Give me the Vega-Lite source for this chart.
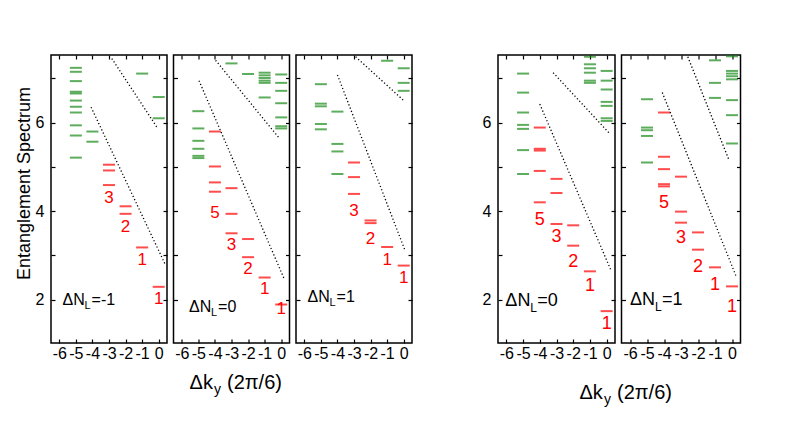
{
"$schema": "https://vega.github.io/schema/vega-lite/v6.json",
"background": "white",
"padding": {"left": 14, "top": 53, "right": 5, "bottom": 5},
"config": {
  "view": {"stroke": "#000", "strokeWidth": 1.5},
  "axis": {"grid": false, "domain": false, "tickColor": "#000", "tickSize": -4, "tickWidth": 1.2, "labelFont": "Liberation Sans", "labelFontSize": 16, "labelColor": "#000", "titleFont": "Liberation Sans", "titleFontWeight": "normal", "titleColor": "#000", "labelFlush": false, "labelOverlap": false},
  "text": {"font": "Liberation Sans"}
},
"datasets": {
  "levels": [
    {"panel":1,"dk":-5,"es":7.24,"branch":"upper"},{"panel":1,"dk":-5,"es":7.15,"branch":"upper"},{"panel":1,"dk":-5,"es":6.94,"branch":"upper"},{"panel":1,"dk":-5,"es":6.70,"branch":"upper"},{"panel":1,"dk":-5,"es":6.66,"branch":"upper"},{"panel":1,"dk":-5,"es":6.50,"branch":"upper"},{"panel":1,"dk":-5,"es":6.36,"branch":"upper"},{"panel":1,"dk":-5,"es":6.23,"branch":"upper"},{"panel":1,"dk":-5,"es":5.94,"branch":"upper"},{"panel":1,"dk":-5,"es":5.71,"branch":"upper"},{"panel":1,"dk":-5,"es":5.21,"branch":"upper"},
    {"panel":1,"dk":-4,"es":5.80,"branch":"upper"},{"panel":1,"dk":-4,"es":5.57,"branch":"upper"},
    {"panel":1,"dk":-1,"es":7.11,"branch":"upper"},
    {"panel":1,"dk":0,"es":6.58,"branch":"upper"},{"panel":1,"dk":0,"es":6.10,"branch":"upper"},
    {"panel":1,"dk":-3,"es":5.05,"branch":"lower"},{"panel":1,"dk":-3,"es":4.92,"branch":"lower"},{"panel":1,"dk":-3,"es":4.59,"branch":"lower"},
    {"panel":1,"dk":-2,"es":4.11,"branch":"lower"},{"panel":1,"dk":-2,"es":3.94,"branch":"lower"},
    {"panel":1,"dk":-1,"es":3.18,"branch":"lower"},
    {"panel":1,"dk":0,"es":2.29,"branch":"lower"},

    {"panel":2,"dk":-5,"es":6.26,"branch":"upper"},{"panel":2,"dk":-5,"es":5.87,"branch":"upper"},{"panel":2,"dk":-5,"es":5.59,"branch":"upper"},{"panel":2,"dk":-5,"es":5.41,"branch":"upper"},{"panel":2,"dk":-5,"es":5.25,"branch":"upper"},{"panel":2,"dk":-5,"es":5.20,"branch":"upper"},
    {"panel":2,"dk":-3,"es":7.34,"branch":"upper"},
    {"panel":2,"dk":-2,"es":7.10,"branch":"upper"},
    {"panel":2,"dk":-1,"es":7.13,"branch":"upper"},{"panel":2,"dk":-1,"es":7.07,"branch":"upper"},{"panel":2,"dk":-1,"es":7.01,"branch":"upper"},{"panel":2,"dk":-1,"es":6.95,"branch":"upper"},{"panel":2,"dk":-1,"es":6.90,"branch":"upper"},{"panel":2,"dk":-1,"es":6.57,"branch":"upper"},
    {"panel":2,"dk":0,"es":7.09,"branch":"upper"},{"panel":2,"dk":0,"es":6.90,"branch":"upper"},{"panel":2,"dk":0,"es":6.72,"branch":"upper"},{"panel":2,"dk":0,"es":6.44,"branch":"upper"},{"panel":2,"dk":0,"es":6.12,"branch":"upper"},{"panel":2,"dk":0,"es":5.92,"branch":"upper"},{"panel":2,"dk":0,"es":5.87,"branch":"upper"},
    {"panel":2,"dk":-4,"es":5.80,"branch":"lower"},{"panel":2,"dk":-4,"es":5.01,"branch":"lower"},{"panel":2,"dk":-4,"es":4.65,"branch":"lower"},{"panel":2,"dk":-4,"es":4.44,"branch":"lower"},
    {"panel":2,"dk":-3,"es":4.52,"branch":"lower"},{"panel":2,"dk":-3,"es":3.94,"branch":"lower"},{"panel":2,"dk":-3,"es":3.50,"branch":"lower"},
    {"panel":2,"dk":-2,"es":3.37,"branch":"lower"},{"panel":2,"dk":-2,"es":2.96,"branch":"lower"},
    {"panel":2,"dk":-1,"es":2.50,"branch":"lower"},
    {"panel":2,"dk":0,"es":1.89,"branch":"lower"},

    {"panel":3,"dk":-5,"es":6.87,"branch":"upper"},{"panel":3,"dk":-5,"es":6.43,"branch":"upper"},{"panel":3,"dk":-5,"es":6.37,"branch":"upper"},{"panel":3,"dk":-5,"es":5.97,"branch":"upper"},{"panel":3,"dk":-5,"es":5.85,"branch":"upper"},
    {"panel":3,"dk":-4,"es":6.25,"branch":"upper"},{"panel":3,"dk":-4,"es":5.52,"branch":"upper"},{"panel":3,"dk":-4,"es":5.35,"branch":"upper"},{"panel":3,"dk":-4,"es":4.84,"branch":"upper"},
    {"panel":3,"dk":-1,"es":7.40,"branch":"upper"},
    {"panel":3,"dk":0,"es":7.23,"branch":"upper"},{"panel":3,"dk":0,"es":6.90,"branch":"upper"},{"panel":3,"dk":0,"es":6.72,"branch":"upper"},
    {"panel":3,"dk":-3,"es":5.10,"branch":"lower"},{"panel":3,"dk":-3,"es":4.77,"branch":"lower"},{"panel":3,"dk":-3,"es":4.39,"branch":"lower"},
    {"panel":3,"dk":-2,"es":3.79,"branch":"lower"},{"panel":3,"dk":-2,"es":3.73,"branch":"lower"},
    {"panel":3,"dk":-1,"es":3.19,"branch":"lower"},
    {"panel":3,"dk":0,"es":2.77,"branch":"lower"},

    {"panel":4,"dk":-5,"es":7.11,"branch":"upper"},{"panel":4,"dk":-5,"es":6.68,"branch":"upper"},{"panel":4,"dk":-5,"es":6.23,"branch":"upper"},{"panel":4,"dk":-5,"es":5.95,"branch":"upper"},{"panel":4,"dk":-5,"es":5.86,"branch":"upper"},{"panel":4,"dk":-5,"es":5.38,"branch":"upper"},{"panel":4,"dk":-5,"es":4.84,"branch":"upper"},
    {"panel":4,"dk":-1,"es":7.49,"branch":"upper"},{"panel":4,"dk":-1,"es":7.32,"branch":"upper"},{"panel":4,"dk":-1,"es":7.23,"branch":"upper"},{"panel":4,"dk":-1,"es":7.13,"branch":"upper"},{"panel":4,"dk":-1,"es":6.95,"branch":"upper"},{"panel":4,"dk":-1,"es":6.90,"branch":"upper"},
    {"panel":4,"dk":0,"es":7.17,"branch":"upper"},{"panel":4,"dk":0,"es":6.95,"branch":"upper"},{"panel":4,"dk":0,"es":6.75,"branch":"upper"},{"panel":4,"dk":0,"es":6.47,"branch":"upper"},{"panel":4,"dk":0,"es":6.38,"branch":"upper"},{"panel":4,"dk":0,"es":6.10,"branch":"upper"},{"panel":4,"dk":0,"es":6.04,"branch":"upper"},
    {"panel":4,"dk":-4,"es":5.89,"branch":"lower"},{"panel":4,"dk":-4,"es":5.41,"branch":"lower"},{"panel":4,"dk":-4,"es":5.37,"branch":"lower"},{"panel":4,"dk":-4,"es":4.91,"branch":"lower"},{"panel":4,"dk":-4,"es":4.20,"branch":"lower"},
    {"panel":4,"dk":-3,"es":4.73,"branch":"lower"},{"panel":4,"dk":-3,"es":4.41,"branch":"lower"},{"panel":4,"dk":-3,"es":3.71,"branch":"lower"},
    {"panel":4,"dk":-2,"es":3.68,"branch":"lower"},{"panel":4,"dk":-2,"es":3.22,"branch":"lower"},
    {"panel":4,"dk":-1,"es":2.64,"branch":"lower"},
    {"panel":4,"dk":0,"es":1.74,"branch":"lower"},

    {"panel":5,"dk":-5,"es":6.53,"branch":"upper"},{"panel":5,"dk":-5,"es":5.89,"branch":"upper"},{"panel":5,"dk":-5,"es":5.83,"branch":"upper"},{"panel":5,"dk":-5,"es":5.70,"branch":"upper"},{"panel":5,"dk":-5,"es":5.10,"branch":"upper"},
    {"panel":5,"dk":-1,"es":7.41,"branch":"upper"},{"panel":5,"dk":-1,"es":6.90,"branch":"upper"},{"panel":5,"dk":-1,"es":6.56,"branch":"upper"},
    {"panel":5,"dk":0,"es":7.50,"branch":"upper"},{"panel":5,"dk":0,"es":7.17,"branch":"upper"},{"panel":5,"dk":0,"es":7.11,"branch":"upper"},{"panel":5,"dk":0,"es":7.05,"branch":"upper"},{"panel":5,"dk":0,"es":6.98,"branch":"upper"},{"panel":5,"dk":0,"es":6.51,"branch":"upper"},{"panel":5,"dk":0,"es":6.17,"branch":"upper"},{"panel":5,"dk":0,"es":5.53,"branch":"upper"},
    {"panel":5,"dk":-4,"es":6.23,"branch":"lower"},{"panel":5,"dk":-4,"es":5.23,"branch":"lower"},{"panel":5,"dk":-4,"es":4.95,"branch":"lower"},{"panel":5,"dk":-4,"es":4.61,"branch":"lower"},{"panel":5,"dk":-4,"es":4.56,"branch":"lower"},
    {"panel":5,"dk":-3,"es":4.78,"branch":"lower"},{"panel":5,"dk":-3,"es":3.99,"branch":"lower"},{"panel":5,"dk":-3,"es":3.74,"branch":"lower"},
    {"panel":5,"dk":-2,"es":3.52,"branch":"lower"},{"panel":5,"dk":-2,"es":3.13,"branch":"lower"},
    {"panel":5,"dk":-1,"es":2.73,"branch":"lower"},
    {"panel":5,"dk":0,"es":2.30,"branch":"lower"}
  ],
  "numbers": [
    {"panel":1,"dk":-3,"es":4.29,"n":"3"},{"panel":1,"dk":-2,"es":3.65,"n":"2"},{"panel":1,"dk":-1,"es":2.90,"n":"1"},{"panel":1,"dk":0,"es":2.02,"n":"1"},
    {"panel":2,"dk":-4,"es":3.95,"n":"5"},{"panel":2,"dk":-3,"es":3.24,"n":"3"},{"panel":2,"dk":-2,"es":2.70,"n":"2"},{"panel":2,"dk":-1,"es":2.25,"n":"1"},{"panel":2,"dk":0,"es":1.78,"n":"1"},
    {"panel":3,"dk":-3,"es":4.00,"n":"3"},{"panel":3,"dk":-2,"es":3.38,"n":"2"},{"panel":3,"dk":-1,"es":2.90,"n":"1"},{"panel":3,"dk":0,"es":2.50,"n":"1"},
    {"panel":4,"dk":-4,"es":3.79,"n":"5"},{"panel":4,"dk":-3,"es":3.41,"n":"3"},{"panel":4,"dk":-2,"es":2.85,"n":"2"},{"panel":4,"dk":-1,"es":2.30,"n":"1"},{"panel":4,"dk":0,"es":1.46,"n":"1"},
    {"panel":5,"dk":-4,"es":4.18,"n":"5"},{"panel":5,"dk":-3,"es":3.39,"n":"3"},{"panel":5,"dk":-2,"es":2.73,"n":"2"},{"panel":5,"dk":-1,"es":2.33,"n":"1"},{"panel":5,"dk":0,"es":1.84,"n":"1"}
  ],
  "lines": [
    {"panel":1,"line":"a","dk":-4.08,"es":6.35},{"panel":1,"line":"a","dk":0.40,"es":2.79},
    {"panel":1,"line":"b","dk":-2.83,"es":7.45},{"panel":1,"line":"b","dk":-0.06,"es":5.87},
    {"panel":2,"line":"a","dk":-4.96,"es":6.95},{"panel":2,"line":"a","dk":0.20,"es":2.45},
    {"panel":2,"line":"b","dk":-3.96,"es":7.41},{"panel":2,"line":"b","dk":-0.12,"es":5.65},
    {"panel":3,"line":"a","dk":-4.00,"es":7.08},{"panel":3,"line":"a","dk":0.06,"es":3.13},
    {"panel":3,"line":"b","dk":-2.90,"es":7.49},{"panel":3,"line":"b","dk":0.00,"es":6.50},
    {"panel":4,"line":"a","dk":-4.00,"es":6.42},{"panel":4,"line":"a","dk":0.24,"es":2.68},
    {"panel":4,"line":"b","dk":-3.20,"es":7.13},{"panel":4,"line":"b","dk":0.14,"es":5.77},
    {"panel":5,"line":"a","dk":-4.10,"es":6.68},{"panel":5,"line":"a","dk":0.24,"es":2.53},
    {"panel":5,"line":"b","dk":-2.60,"es":7.49},{"panel":5,"line":"b","dk":-0.16,"es":5.14}
  ],
  "tags": [
    {"panel":1,"dk":-5.8,"es":2.00,"main":"ΔN","sub":"L","rest":"=-1"},
    {"panel":2,"dk":-5.56,"es":1.83,"main":"ΔN","sub":"L","rest":"=0"},
    {"panel":3,"dk":-5.8,"es":2.06,"main":"ΔN","sub":"L","rest":"=1"},
    {"panel":4,"dk":-6.06,"es":1.96,"main":"ΔN","sub":"L","rest":"=0"},
    {"panel":5,"dk":-6.0,"es":2.00,"main":"ΔN","sub":"L","rest":"=1"}
  ]
},
"bounds": "flush",
"spacing": 6.5,
"hconcat": [
  {"width": 116, "height": 288, "resolve": {"axis": {"x": "independent", "y": "independent"}}, "layer": [
    {"data": {"name": "levels"}, "transform": [{"filter": "datum.panel == 1"}],
     "mark": {"type": "tick", "orient": "horizontal", "size": 12, "thickness": 2},
     "encoding": {
       "x": {"field": "dk", "type": "quantitative", "scale": {"domain": [-6.5, 0.5], "nice": false, "zero": false}, "axis": {"orient": "bottom", "values": [-6,-5,-4,-3,-2,-1,0], "labelExpr": "'' + datum.value", "labelPadding": 6, "title": null}},
       "y": {"field": "es", "type": "quantitative", "scale": {"domain": [1.02, 7.53], "nice": false, "zero": false}, "axis": {"orient": "left", "values": [2,3,4,5,6,7], "labelExpr": "datum.value % 2 == 0 ? '' + datum.value : ''", "labelPadding": 11, "title": "Entanglement Spectrum", "titleFontSize": 18, "titleX": -22, "titleY": 128, "titleAngle": 270, "titleAlign": "center", "titleBaseline": "alphabetic"}},
       "color": {"field": "branch", "type": "nominal", "scale": {"domain": ["upper", "lower"], "range": ["#1a8a1a", "#ff0000"]}, "legend": null}}},
    {"data": {"name": "numbers"}, "transform": [{"filter": "datum.panel == 1"}],
     "mark": {"type": "text", "color": "#ff0000", "fontSize": 17, "align": "center", "baseline": "middle"},
     "encoding": {
       "x": {"field": "dk", "type": "quantitative", "scale": {"domain": [-6.5, 0.5], "nice": false, "zero": false}, "axis": {"orient": "top", "values": [-6,-5,-4,-3,-2,-1,0], "labels": false, "title": null}},
       "y": {"field": "es", "type": "quantitative", "scale": {"domain": [1.02, 7.53], "nice": false, "zero": false}, "axis": {"orient": "right", "values": [2,3,4,5,6,7], "labels": false, "title": null}},
       "text": {"field": "n"}}},
    {"data": {"name": "lines"}, "transform": [{"filter": "datum.panel == 1"}],
     "mark": {"type": "line", "color": "#000", "strokeWidth": 1.3, "strokeDash": [1.2, 2.3]},
     "encoding": {"x": {"field": "dk", "type": "quantitative", "axis": null}, "y": {"field": "es", "type": "quantitative", "axis": null}, "detail": {"field": "line"}}},
    {"data": {"name": "tags"}, "transform": [{"filter": "datum.panel == 1"}],
     "mark": {"type": "text", "fontSize": 16, "align": "left", "baseline": "middle"},
     "encoding": {"x": {"field": "dk", "type": "quantitative", "axis": null}, "y": {"field": "es", "type": "quantitative", "axis": null}, "text": {"field": "main"}}},
    {"data": {"name": "tags"}, "transform": [{"filter": "datum.panel == 1"}],
     "mark": {"type": "text", "fontSize": 11, "align": "left", "baseline": "middle", "dx": 22, "dy": 6},
     "encoding": {"x": {"field": "dk", "type": "quantitative", "axis": null}, "y": {"field": "es", "type": "quantitative", "axis": null}, "text": {"field": "sub"}}},
    {"data": {"name": "tags"}, "transform": [{"filter": "datum.panel == 1"}],
     "mark": {"type": "text", "fontSize": 16, "align": "left", "baseline": "middle", "dx": 29},
     "encoding": {"x": {"field": "dk", "type": "quantitative", "axis": null}, "y": {"field": "es", "type": "quantitative", "axis": null}, "text": {"field": "rest"}}}
  ]},
  {"width": 116, "height": 288, "resolve": {"axis": {"x": "independent", "y": "independent"}}, "layer": [
    {"data": {"name": "levels"}, "transform": [{"filter": "datum.panel == 2"}],
     "mark": {"type": "tick", "orient": "horizontal", "size": 12, "thickness": 2},
     "encoding": {
       "x": {"field": "dk", "type": "quantitative", "scale": {"domain": [-6.5, 0.5], "nice": false, "zero": false}, "axis": {"orient": "bottom", "values": [-6,-5,-4,-3,-2,-1,0], "labelExpr": "'' + datum.value", "labelPadding": 6, "title": "Δk", "titleFontSize": 20, "titleX": 15.6, "titleY": 45, "titleAlign": "left", "titleBaseline": "alphabetic"}},
       "y": {"field": "es", "type": "quantitative", "scale": {"domain": [1.02, 7.53], "nice": false, "zero": false}, "axis": {"orient": "left", "values": [2,3,4,5,6,7], "labels": false, "title": null}},
       "color": {"field": "branch", "type": "nominal", "scale": {"domain": ["upper", "lower"], "range": ["#1a8a1a", "#ff0000"]}, "legend": null}}},
    {"data": {"name": "numbers"}, "transform": [{"filter": "datum.panel == 2"}],
     "mark": {"type": "text", "color": "#ff0000", "fontSize": 17, "align": "center", "baseline": "middle"},
     "encoding": {
       "x": {"field": "dk", "type": "quantitative", "scale": {"domain": [-6.5, 0.5], "nice": false, "zero": false}, "axis": {"orient": "top", "values": [-6,-5,-4,-3,-2,-1,0], "labels": false, "title": null}},
       "y": {"field": "es", "type": "quantitative", "scale": {"domain": [1.02, 7.53], "nice": false, "zero": false}, "axis": {"orient": "right", "values": [2,3,4,5,6,7], "labels": false, "title": null}},
       "text": {"field": "n"}}},
    {"data": {"name": "lines"}, "transform": [{"filter": "datum.panel == 2"}],
     "mark": {"type": "line", "color": "#000", "strokeWidth": 1.3, "strokeDash": [1.2, 2.3]},
     "encoding": {"x": {"field": "dk", "type": "quantitative", "axis": {"orient": "bottom", "ticks": false, "labels": false, "domain": false, "title": "y", "titleFontSize": 14, "titleX": 40, "titleY": 50, "titleAlign": "left", "titleBaseline": "alphabetic"}}, "y": {"field": "es", "type": "quantitative", "axis": null}, "detail": {"field": "line"}}},
    {"data": {"name": "tags"}, "transform": [{"filter": "datum.panel == 2"}],
     "mark": {"type": "text", "fontSize": 16, "align": "left", "baseline": "middle"},
     "encoding": {"x": {"field": "dk", "type": "quantitative", "axis": {"orient": "bottom", "ticks": false, "labels": false, "domain": false, "title": "(2π/6)", "titleFontSize": 20, "titleX": 53, "titleY": 45, "titleAlign": "left", "titleBaseline": "alphabetic"}}, "y": {"field": "es", "type": "quantitative", "axis": null}, "text": {"field": "main"}}},
    {"data": {"name": "tags"}, "transform": [{"filter": "datum.panel == 2"}],
     "mark": {"type": "text", "fontSize": 11, "align": "left", "baseline": "middle", "dx": 22, "dy": 6},
     "encoding": {"x": {"field": "dk", "type": "quantitative", "axis": null}, "y": {"field": "es", "type": "quantitative", "axis": null}, "text": {"field": "sub"}}},
    {"data": {"name": "tags"}, "transform": [{"filter": "datum.panel == 2"}],
     "mark": {"type": "text", "fontSize": 16, "align": "left", "baseline": "middle", "dx": 29},
     "encoding": {"x": {"field": "dk", "type": "quantitative", "axis": null}, "y": {"field": "es", "type": "quantitative", "axis": null}, "text": {"field": "rest"}}}
  ]},
  {"width": 116, "height": 288, "resolve": {"axis": {"x": "independent", "y": "independent"}}, "layer": [
    {"data": {"name": "levels"}, "transform": [{"filter": "datum.panel == 3"}],
     "mark": {"type": "tick", "orient": "horizontal", "size": 12, "thickness": 2},
     "encoding": {
       "x": {"field": "dk", "type": "quantitative", "scale": {"domain": [-6.5, 0.5], "nice": false, "zero": false}, "axis": {"orient": "bottom", "values": [-6,-5,-4,-3,-2,-1,0], "labelExpr": "'' + datum.value", "labelPadding": 6, "title": null}},
       "y": {"field": "es", "type": "quantitative", "scale": {"domain": [1.02, 7.53], "nice": false, "zero": false}, "axis": {"orient": "left", "values": [2,3,4,5,6,7], "labels": false, "title": null}},
       "color": {"field": "branch", "type": "nominal", "scale": {"domain": ["upper", "lower"], "range": ["#1a8a1a", "#ff0000"]}, "legend": null}}},
    {"data": {"name": "numbers"}, "transform": [{"filter": "datum.panel == 3"}],
     "mark": {"type": "text", "color": "#ff0000", "fontSize": 17, "align": "center", "baseline": "middle"},
     "encoding": {
       "x": {"field": "dk", "type": "quantitative", "scale": {"domain": [-6.5, 0.5], "nice": false, "zero": false}, "axis": {"orient": "top", "values": [-6,-5,-4,-3,-2,-1,0], "labels": false, "title": null}},
       "y": {"field": "es", "type": "quantitative", "scale": {"domain": [1.02, 7.53], "nice": false, "zero": false}, "axis": {"orient": "right", "values": [2,3,4,5,6,7], "labels": false, "title": null}},
       "text": {"field": "n"}}},
    {"data": {"name": "lines"}, "transform": [{"filter": "datum.panel == 3"}],
     "mark": {"type": "line", "color": "#000", "strokeWidth": 1.3, "strokeDash": [1.2, 2.3]},
     "encoding": {"x": {"field": "dk", "type": "quantitative", "axis": null}, "y": {"field": "es", "type": "quantitative", "axis": null}, "detail": {"field": "line"}}},
    {"data": {"name": "tags"}, "transform": [{"filter": "datum.panel == 3"}],
     "mark": {"type": "text", "fontSize": 16, "align": "left", "baseline": "middle"},
     "encoding": {"x": {"field": "dk", "type": "quantitative", "axis": null}, "y": {"field": "es", "type": "quantitative", "axis": null}, "text": {"field": "main"}}},
    {"data": {"name": "tags"}, "transform": [{"filter": "datum.panel == 3"}],
     "mark": {"type": "text", "fontSize": 11, "align": "left", "baseline": "middle", "dx": 22, "dy": 6},
     "encoding": {"x": {"field": "dk", "type": "quantitative", "axis": null}, "y": {"field": "es", "type": "quantitative", "axis": null}, "text": {"field": "sub"}}},
    {"data": {"name": "tags"}, "transform": [{"filter": "datum.panel == 3"}],
     "mark": {"type": "text", "fontSize": 16, "align": "left", "baseline": "middle", "dx": 29},
     "encoding": {"x": {"field": "dk", "type": "quantitative", "axis": null}, "y": {"field": "es", "type": "quantitative", "axis": null}, "text": {"field": "rest"}}}
  ]},
  {"width": 72.3, "height": 288, "view": {"stroke": null}, "data": {"values": []}, "mark": "point", "encoding": {}},
  {"width": 117, "height": 288, "resolve": {"axis": {"x": "independent", "y": "independent"}}, "layer": [
    {"data": {"name": "levels"}, "transform": [{"filter": "datum.panel == 4"}],
     "mark": {"type": "tick", "orient": "horizontal", "size": 12, "thickness": 2},
     "encoding": {
       "x": {"field": "dk", "type": "quantitative", "scale": {"domain": [-6.5, 0.5], "nice": false, "zero": false}, "axis": {"orient": "bottom", "values": [-6,-5,-4,-3,-2,-1,0], "labelExpr": "'' + datum.value", "labelPadding": 6, "title": null}},
       "y": {"field": "es", "type": "quantitative", "scale": {"domain": [1.02, 7.53], "nice": false, "zero": false}, "axis": {"orient": "left", "values": [2,3,4,5,6,7], "labelExpr": "datum.value % 2 == 0 ? '' + datum.value : ''", "labelPadding": 11, "title": null}},
       "color": {"field": "branch", "type": "nominal", "scale": {"domain": ["upper", "lower"], "range": ["#1a8a1a", "#ff0000"]}, "legend": null}}},
    {"data": {"name": "numbers"}, "transform": [{"filter": "datum.panel == 4"}],
     "mark": {"type": "text", "color": "#ff0000", "fontSize": 18, "align": "center", "baseline": "middle"},
     "encoding": {
       "x": {"field": "dk", "type": "quantitative", "scale": {"domain": [-6.5, 0.5], "nice": false, "zero": false}, "axis": {"orient": "top", "values": [-6,-5,-4,-3,-2,-1,0], "labels": false, "title": null}},
       "y": {"field": "es", "type": "quantitative", "scale": {"domain": [1.02, 7.53], "nice": false, "zero": false}, "axis": {"orient": "right", "values": [2,3,4,5,6,7], "labels": false, "title": null}},
       "text": {"field": "n"}}},
    {"data": {"name": "lines"}, "transform": [{"filter": "datum.panel == 4"}],
     "mark": {"type": "line", "color": "#000", "strokeWidth": 1.3, "strokeDash": [1.2, 2.3]},
     "encoding": {"x": {"field": "dk", "type": "quantitative", "axis": null}, "y": {"field": "es", "type": "quantitative", "axis": null}, "detail": {"field": "line"}}},
    {"data": {"name": "tags"}, "transform": [{"filter": "datum.panel == 4"}],
     "mark": {"type": "text", "fontSize": 18, "align": "left", "baseline": "middle"},
     "encoding": {"x": {"field": "dk", "type": "quantitative", "axis": null}, "y": {"field": "es", "type": "quantitative", "axis": null}, "text": {"field": "main"}}},
    {"data": {"name": "tags"}, "transform": [{"filter": "datum.panel == 4"}],
     "mark": {"type": "text", "fontSize": 12, "align": "left", "baseline": "middle", "dx": 25, "dy": 7},
     "encoding": {"x": {"field": "dk", "type": "quantitative", "axis": null}, "y": {"field": "es", "type": "quantitative", "axis": null}, "text": {"field": "sub"}}},
    {"data": {"name": "tags"}, "transform": [{"filter": "datum.panel == 4"}],
     "mark": {"type": "text", "fontSize": 18, "align": "left", "baseline": "middle", "dx": 32},
     "encoding": {"x": {"field": "dk", "type": "quantitative", "axis": null}, "y": {"field": "es", "type": "quantitative", "axis": null}, "text": {"field": "rest"}}}
  ]},
  {"width": 119, "height": 288, "resolve": {"axis": {"x": "independent", "y": "independent"}}, "layer": [
    {"data": {"name": "levels"}, "transform": [{"filter": "datum.panel == 5"}],
     "mark": {"type": "tick", "orient": "horizontal", "size": 12, "thickness": 2},
     "encoding": {
       "x": {"field": "dk", "type": "quantitative", "scale": {"domain": [-6.5, 0.5], "nice": false, "zero": false}, "axis": {"orient": "bottom", "values": [-6,-5,-4,-3,-2,-1,0], "labelExpr": "'' + datum.value", "labelPadding": 6, "title": "Δk", "titleFontSize": 20, "titleX": -42.5, "titleY": 55, "titleAlign": "left", "titleBaseline": "alphabetic"}},
       "y": {"field": "es", "type": "quantitative", "scale": {"domain": [1.02, 7.53], "nice": false, "zero": false}, "axis": {"orient": "left", "values": [2,3,4,5,6,7], "labels": false, "title": null}},
       "color": {"field": "branch", "type": "nominal", "scale": {"domain": ["upper", "lower"], "range": ["#1a8a1a", "#ff0000"]}, "legend": null}}},
    {"data": {"name": "numbers"}, "transform": [{"filter": "datum.panel == 5"}],
     "mark": {"type": "text", "color": "#ff0000", "fontSize": 18, "align": "center", "baseline": "middle"},
     "encoding": {
       "x": {"field": "dk", "type": "quantitative", "scale": {"domain": [-6.5, 0.5], "nice": false, "zero": false}, "axis": {"orient": "top", "values": [-6,-5,-4,-3,-2,-1,0], "labels": false, "title": null}},
       "y": {"field": "es", "type": "quantitative", "scale": {"domain": [1.02, 7.53], "nice": false, "zero": false}, "axis": {"orient": "right", "values": [2,3,4,5,6,7], "labels": false, "title": null}},
       "text": {"field": "n"}}},
    {"data": {"name": "lines"}, "transform": [{"filter": "datum.panel == 5"}],
     "mark": {"type": "line", "color": "#000", "strokeWidth": 1.3, "strokeDash": [1.2, 2.3]},
     "encoding": {"x": {"field": "dk", "type": "quantitative", "axis": {"orient": "bottom", "ticks": false, "labels": false, "domain": false, "title": "y", "titleFontSize": 14, "titleX": -18, "titleY": 60, "titleAlign": "left", "titleBaseline": "alphabetic"}}, "y": {"field": "es", "type": "quantitative", "axis": null}, "detail": {"field": "line"}}},
    {"data": {"name": "tags"}, "transform": [{"filter": "datum.panel == 5"}],
     "mark": {"type": "text", "fontSize": 18, "align": "left", "baseline": "middle"},
     "encoding": {"x": {"field": "dk", "type": "quantitative", "axis": {"orient": "bottom", "ticks": false, "labels": false, "domain": false, "title": "(2π/6)", "titleFontSize": 20, "titleX": -5, "titleY": 55, "titleAlign": "left", "titleBaseline": "alphabetic"}}, "y": {"field": "es", "type": "quantitative", "axis": null}, "text": {"field": "main"}}},
    {"data": {"name": "tags"}, "transform": [{"filter": "datum.panel == 5"}],
     "mark": {"type": "text", "fontSize": 12, "align": "left", "baseline": "middle", "dx": 25, "dy": 7},
     "encoding": {"x": {"field": "dk", "type": "quantitative", "axis": null}, "y": {"field": "es", "type": "quantitative", "axis": null}, "text": {"field": "sub"}}},
    {"data": {"name": "tags"}, "transform": [{"filter": "datum.panel == 5"}],
     "mark": {"type": "text", "fontSize": 18, "align": "left", "baseline": "middle", "dx": 32},
     "encoding": {"x": {"field": "dk", "type": "quantitative", "axis": null}, "y": {"field": "es", "type": "quantitative", "axis": null}, "text": {"field": "rest"}}}
  ]}
]
}
